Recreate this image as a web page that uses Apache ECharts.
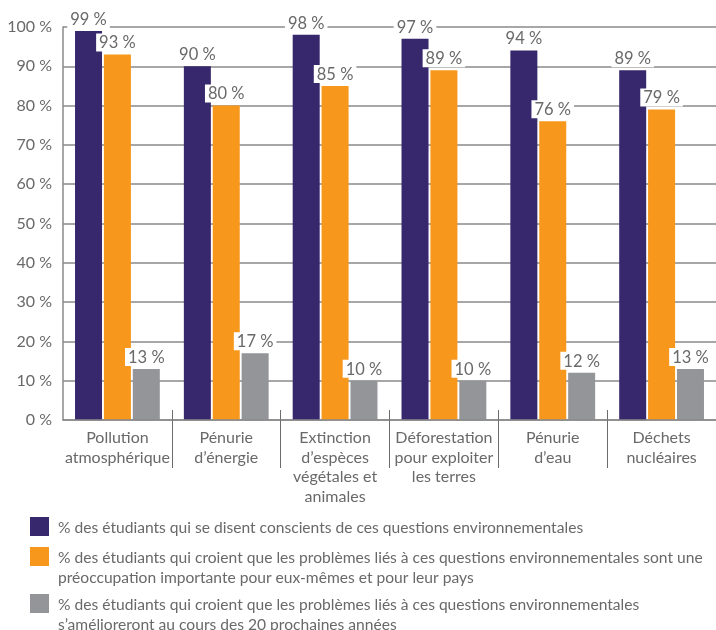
<!DOCTYPE html>
<html>
<head>
<meta charset="utf-8">
<script src="https://cdn.jsdelivr.net/npm/echarts@6/dist/echarts.min.js"></script>
<style>html,body{margin:0;padding:0;background:#fff}#c{width:716px;height:630px}</style>
</head>
<body>
<div id="c"></div>
<script>
const categories = [
  "Pollution\natmosphérique",
  "Pénurie\nd’énergie",
  "Extinction\nd’espèces\nvégétales et\nanimales",
  "Déforestation\npour exploiter\nles terres",
  "Pénurie\nd’eau",
  "Déchets\nnucléaires"
];
const seriesNames = [
  "% des étudiants qui se disent conscients de ces questions environnementales",
  "% des étudiants qui croient que les problèmes liés à ces questions environnementales sont une\npréoccupation importante pour eux-mêmes et pour leur pays",
  "% des étudiants qui croient que les problèmes liés à ces questions environnementales\ns’amélioreront au cours des 20 prochaines années"
];
const conscients = [99, 90, 98, 97, 94, 89];
const preoccupation = [93, 80, 85, 89, 76, 79];
const amelioration = [13, 17, 10, 10, 12, 13];
const yTicks = [0, 10, 20, 30, 40, 50, 60, 70, 80, 90, 100];

const colors = ["#37276d", "#f7981d", "#939598"];
const FONT = "Lato";
const TXT = "#696969";
const GRID = "#8a8a8a";

const chart = echarts.init(document.getElementById('c'), null, {renderer: 'canvas'});

const values = [conscients, preoccupation, amelioration];
const series = values.map((v, i) => ({
  name: seriesNames[i],
  type: 'bar',
  data: v,
  barWidth: 27,
  barGap: '7%',
  itemStyle: {color: colors[i]},
  label: {
    show: true,
    position: 'top',
    distance: 3,
    formatter: '{c} %',
    fontFamily: FONT,
    fontSize: 16.5,
    color: TXT,
    backgroundColor: '#fff',
    padding: [1, 3, 0, 3]
  }
}));

// legend drawn as graphic items built from seriesNames
const legendTops = [517, 547, 594];
const graphic = [];
seriesNames.forEach((n, i) => {
  graphic.push({type: 'rect', left: 30, top: legendTops[i], shape: {width: 19, height: 19}, style: {fill: colors[i]}});
  graphic.push({type: 'text', left: 58, top: legendTops[i] + 1, style: {text: n, font: '15.6px ' + FONT, fill: TXT, lineHeight: 20}});
});

const tickFilter = (idx) => idx !== 0;

chart.setOption({
  animation: false,
  grid: {left: 63, right: -7, top: 27, bottom: 210, containLabel: false},
  xAxis: [{
    type: 'category',
    data: categories,
    axisLine: {show: true, lineStyle: {color: GRID, width: 1.5}},
    axisTick: {show: true, length: 48, interval: tickFilter, lineStyle: {color: '#6b6b6b', width: 1}},
    axisLabel: {interval: 0, margin: 8, fontFamily: FONT, fontSize: 16, color: TXT, lineHeight: 19.7},
    z: 10
  }, {
    type: 'category',
    data: categories,
    position: 'bottom',
    axisLine: {show: false},
    axisTick: {show: true, inside: true, length: 10, interval: tickFilter, lineStyle: {color: '#6b6b6b', width: 1}},
    axisLabel: {show: false}
  }],
  yAxis: {
    type: 'value',
    min: yTicks[0],
    max: yTicks[yTicks.length - 1],
    interval: 10,
    axisLine: {show: true, lineStyle: {color: GRID, width: 1.5}},
    axisTick: {show: false},
    axisLabel: {formatter: '{value} %', fontFamily: FONT, fontSize: 16, color: TXT, margin: 11},
    splitLine: {show: true, lineStyle: {color: GRID, width: 1.5}}
  },
  series: series,
  graphic: graphic
});
</script>
</body>
</html>
